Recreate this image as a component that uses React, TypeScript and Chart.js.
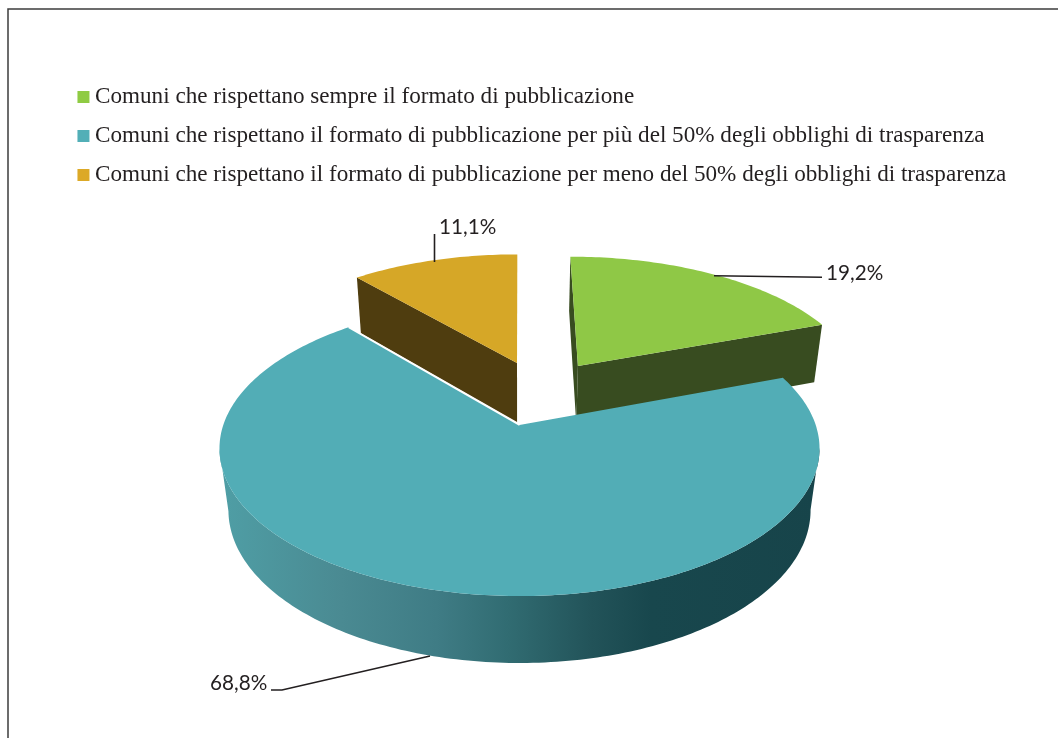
import React, { useEffect, useRef } from "react";
import { Chart, registerables } from "chart.js";

Chart.register(...registerables);

const categories = [
  "Comuni che rispettano sempre il formato di pubblicazione",
  "Comuni che rispettano il formato di pubblicazione per più del 50% degli obblighi di trasparenza",
  "Comuni che rispettano il formato di pubblicazione per meno del 50% degli obblighi di trasparenza",
];
const shares = [19.2, 68.8, 11.1];
const topColors = ["#8FC846", "#52ADB6", "#D6A727"];
const legendColors = ["#8FCB43", "#52AFB7", "#DCA927"];
const cutColors = ["#384C20", "#1A4A50", "#4F3D0F"];

// camera of the tilted pie (all purely presentational)
const CX = 519.5, CY = 425, AX = 296.2, AY = 143.8, PERSP = -0.1593, DEPTH = 63.4, SHRINK = 0.03;
const explode = [[0.211, -0.439], [0, 0], [-0.009, -0.463]];
const sideStops: [number, string][] = [
  [0, "#4F9EA5"], [0.2, "#4A8A92"], [0.36, "#3F7C85"], [0.48, "#316C72"],
  [0.62, "#225359"], [0.72, "#18474D"], [1, "#17444A"],
];
const leaderLines = [
  [[714, 275.7], [822, 277.3]],
  [[271, 690], [282, 690], [430, 656]],
  [[434.5, 262], [434.5, 234]],
];
const labelAnchors = [[826, 280], [210, 690], [439, 234]];

function project(u: number, v: number, z: number): [number, number] {
  const w = 1 + PERSP * v + SHRINK * z;
  return [CX + (AX * u) / w, CY + (AY * v + DEPTH * z) / w];
}

function extremes(pts: [number, number][]) {
  let lo = 0, hi = 0;
  pts.forEach((p, k) => {
    if (p[0] < pts[lo][0]) lo = k;
    if (p[0] > pts[hi][0]) hi = k;
  });
  return { lo, hi };
}

const pie3d = {
  id: "pie3d",
  beforeDraw(chart: any) {
    const ctx = chart.ctx;
    ctx.save();
    ctx.fillStyle = "#fff";
    ctx.fillRect(0, 0, chart.width, chart.height);
    ctx.strokeStyle = "#3c3c3c";
    ctx.lineWidth = 1.5;
    ctx.beginPath();
    ctx.moveTo(8, 738);
    ctx.lineTo(8, 9);
    ctx.lineTo(1058, 9);
    ctx.stroke();
    ctx.restore();
  },
  beforeDatasetsDraw(chart: any) {
    const ctx = chart.ctx;
    const arcs = chart.getDatasetMeta(0).data;
    const trace = (pts: [number, number][]) => {
      ctx.beginPath();
      pts.forEach((p, i) => (i ? ctx.lineTo(p[0], p[1]) : ctx.moveTo(p[0], p[1])));
      ctx.closePath();
    };
    ctx.save();
    [0, 2, 1].forEach((i) => {
      const arc = arcs[i];
      const [ou, ov] = explode[i];
      const a0 = arc.startAngle + Math.PI / 2;
      const a1 = arc.endAngle + Math.PI / 2;
      const n = Math.ceil(((a1 - a0) * 180) / Math.PI);
      const rim = (z: number) => {
        const out: [number, number][] = [];
        for (let k = 0; k <= n; k++) {
          const t = a0 + ((a1 - a0) * k) / n;
          out.push(project(ou + Math.sin(t), ov - Math.cos(t), z));
        }
        return out;
      };
      const top = rim(0);
      const bottom = rim(1);
      const hubTop = project(ou, ov, 0);
      const hubBottom = project(ou, ov, 1);
      ctx.fillStyle = cutColors[i];
      if (i !== 1) {
        trace([hubTop, top[0], bottom[0], hubBottom]);
        ctx.fill();
      }
      if (i === 0) {
        trace([hubTop, top[n], bottom[n], hubBottom]);
        ctx.fill();
      }
      if (i === 1) {
        // the wall that faces the viewer, between the two silhouette edges
        const g = ctx.createLinearGradient(222, 0, 818, 0);
        sideStops.forEach(([p, c]) => g.addColorStop(p, c));
        ctx.fillStyle = g;
        const t = extremes(top);
        const b = extremes(bottom);
        trace([...top.slice(t.hi, t.lo + 1), ...bottom.slice(b.hi, b.lo + 1).reverse()]);
        ctx.fill();
      }
      ctx.fillStyle = topColors[i];
      trace([hubTop, ...top]);
      ctx.fill();
      if (i === 1) {
        ctx.strokeStyle = "#fff";
        ctx.lineWidth = 1.6;
        ctx.beginPath();
        ctx.moveTo(hubTop[0], hubTop[1]);
        ctx.lineTo(top[n][0], top[n][1]);
        ctx.stroke();
      }
    });
    ctx.restore();
    return false;
  },
  afterDraw(chart: any) {
    const ctx = chart.ctx;
    const values = chart.data.datasets[0].data;
    ctx.save();
    ctx.strokeStyle = "#231F20";
    ctx.fillStyle = "#231F20";
    ctx.lineWidth = 1.6;
    ctx.font = '20.7px Lato, "Open Sans", sans-serif';
    ctx.textBaseline = "alphabetic";
    values.forEach((val: number, i: number) => {
      const line = leaderLines[i];
      ctx.beginPath();
      line.forEach((p, k) => (k ? ctx.lineTo(p[0], p[1]) : ctx.moveTo(p[0], p[1])));
      ctx.stroke();
      ctx.fillText(val.toFixed(1).replace(".", ",") + "%", labelAnchors[i][0], labelAnchors[i][1]);
    });
    ctx.restore();
  },
};

export default function App() {
  const ref = useRef<HTMLCanvasElement>(null);
  useEffect(() => {
    const chart = new Chart(ref.current as HTMLCanvasElement, {
      type: "pie",
      data: {
        labels: categories,
        datasets: [{ data: shares, backgroundColor: legendColors, borderWidth: 0 }],
      },
      options: {
        responsive: false,
        animation: false,
        layout: { padding: { left: 67.6, top: 69.5, right: 0, bottom: 0 } },
        plugins: {
          tooltip: { enabled: false },
          legend: {
            position: "top",
            align: "start",
            labels: {
              usePointStyle: true,
              pointStyle: "rect",
              boxWidth: 0.01,
              boxHeight: 12,
              padding: 15.85,
              color: "#231F20",
              font: { family: '"Liberation Serif", serif', size: 23.15 },
            },
          },
        },
      },
      plugins: [pie3d],
    } as any);
    return () => chart.destroy();
  }, []);
  return (
    <canvas
      ref={ref}
      width={1058}
      height={738}
      style={{ position: "absolute", left: 0, top: 0, display: "block" }}
    />
  );
}
